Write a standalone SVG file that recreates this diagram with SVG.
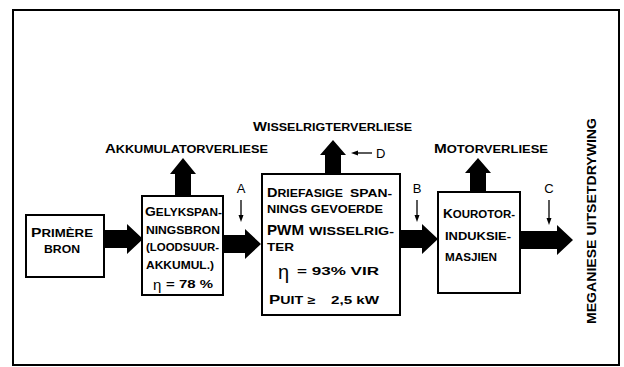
<svg xmlns="http://www.w3.org/2000/svg" width="624" height="367" viewBox="0 0 624 367">
<defs>
<style>
.t{font-family:"Liberation Sans","DejaVu Sans",sans-serif;font-weight:bold;fill:#000;font-size:11px}
.b{font-size:13px}
.n{font-weight:normal}
.box{fill:#fff;stroke:#000;stroke-width:2}
.blk{fill:#000}
.thin{stroke:#000;stroke-width:1.3;fill:none}
</style>
</defs>
<rect width="624" height="367" fill="#fff"/>
<rect x="13" y="10" width="606" height="355" fill="none" stroke="#000" stroke-width="2"/>

<g id="connectors">
<polygon class="blk" points="104,230 127,230 127,224 143,239 127,254 127,248 104,248"/>
<polygon class="blk" points="223,235 245,235 245,229 261,244 245,259 245,253 223,253"/>
<polygon class="blk" points="400,230 422,230 422,224 438,239 422,254 422,248 400,248"/>
<polygon class="blk" points="519,231 557,231 557,225 573,240 557,255 557,249 519,249"/>
<polygon class="blk" points="175,196 175,174 170,174 183,158 196,174 191,174 191,196"/>
<polygon class="blk" points="325,174 325,155 320,155 333,140 346,155 341,155 341,174"/>
<polygon class="blk" points="470,192 470,173 465,173 478,158 491,173 486,173 486,192"/>
<line class="thin" x1="241" y1="200" x2="241" y2="216"/>
<polygon class="blk" points="238.5,215 243.5,215 241,222"/>
<line class="thin" x1="417" y1="200" x2="417" y2="216"/>
<polygon class="blk" points="414.5,215 419.5,215 417,222"/>
<line class="thin" x1="549" y1="200" x2="549" y2="219"/>
<polygon class="blk" points="546.5,218 551.5,218 549,225"/>
<line class="thin" x1="357" y1="153" x2="372" y2="153"/>
<polygon class="blk" points="358,150.5 358,155.5 351,153"/>
</g>

<g id="labels">
<text class="t" x="105" y="153" textLength="163" lengthAdjust="spacingAndGlyphs"><tspan class="b">A</tspan>KKUMULATORVERLIESE</text>
<text class="t" x="253" y="131" textLength="159" lengthAdjust="spacingAndGlyphs"><tspan class="b">W</tspan>ISSELRIGTERVERLIESE</text>
<text class="t" x="434" y="153" textLength="114" lengthAdjust="spacingAndGlyphs"><tspan class="b">M</tspan>OTORVERLIESE</text>
<text class="t b n" x="376" y="158">D</text>
<text class="t n" x="241" y="193" text-anchor="middle" style="font-size:13px">A</text>
<text class="t n" x="417" y="193" text-anchor="middle" style="font-size:13px">B</text>
<text class="t n" x="549" y="193" text-anchor="middle" style="font-size:13px">C</text>
<text class="t" transform="translate(596 221) rotate(-90)" text-anchor="middle" textLength="206" lengthAdjust="spacingAndGlyphs" style="font-size:13px">MEGANIESE UITSETDRYWING</text>
</g>

<g id="primere-bron">
<rect class="box" x="26" y="215" width="78" height="62"/>
<text class="t" x="31" y="237" textLength="62" lengthAdjust="spacingAndGlyphs"><tspan class="b">P</tspan>RIMÈRE</text>
<text class="t" x="44" y="253" textLength="36" lengthAdjust="spacingAndGlyphs">BRON</text>
</g>

<g id="gelykspanningsbron">
<rect class="box" x="142" y="196" width="81" height="99"/>
<text class="t" x="145" y="216" textLength="77" lengthAdjust="spacingAndGlyphs"><tspan class="b">G</tspan>ELYKSPAN-</text>
<text class="t" x="146" y="234" textLength="74" lengthAdjust="spacingAndGlyphs">NINGSBRON</text>
<text class="t" x="146" y="251" textLength="73" lengthAdjust="spacingAndGlyphs">(LOODSUUR-</text>
<text class="t" x="146" y="269" textLength="68" lengthAdjust="spacingAndGlyphs">AKKUMUL.)</text>
<text class="t n" x="153" y="290" style="font-size:15px">η</text>
<text class="t" x="166" y="288" textLength="47" lengthAdjust="spacingAndGlyphs">= 78 %</text>
</g>

<g id="wisselrigter">
<rect class="box" x="262" y="174" width="138" height="141"/>
<text class="t" x="267" y="197" textLength="76" lengthAdjust="spacingAndGlyphs"><tspan class="b">D</tspan>RIEFASIGE</text>
<text class="t" x="350" y="197" textLength="42" lengthAdjust="spacingAndGlyphs">SPAN-</text>
<text class="t" x="267" y="213" textLength="116" lengthAdjust="spacingAndGlyphs">NINGS GEVOERDE</text>
<text class="t" x="267" y="235" textLength="37" lengthAdjust="spacingAndGlyphs" style="font-size:14px">PWM</text>
<text class="t" x="309" y="235" textLength="85" lengthAdjust="spacingAndGlyphs">WISSELRIG-</text>
<text class="t" x="267" y="251" textLength="27" lengthAdjust="spacingAndGlyphs">TER</text>
<text class="t n" x="278" y="279" style="font-size:20px">η</text>
<text class="t" x="297" y="275" textLength="82" lengthAdjust="spacingAndGlyphs">= 93% VIR</text>
<text class="t" x="269" y="304" textLength="46" lengthAdjust="spacingAndGlyphs"><tspan class="b">P</tspan>UIT ≥</text>
<text class="t" x="331" y="304" textLength="48" lengthAdjust="spacingAndGlyphs">2,5 kW</text>
</g>

<g id="kourotor">
<rect class="box" x="438" y="192" width="82" height="101"/>
<text class="t" x="443" y="218" textLength="72" lengthAdjust="spacingAndGlyphs"><tspan class="b">K</tspan>OUROTOR-</text>
<text class="t" x="445" y="240" textLength="66" lengthAdjust="spacingAndGlyphs">INDUKSIE-</text>
<text class="t" x="445" y="261" textLength="52" lengthAdjust="spacingAndGlyphs">MASJIEN</text>
</g>
</svg>
